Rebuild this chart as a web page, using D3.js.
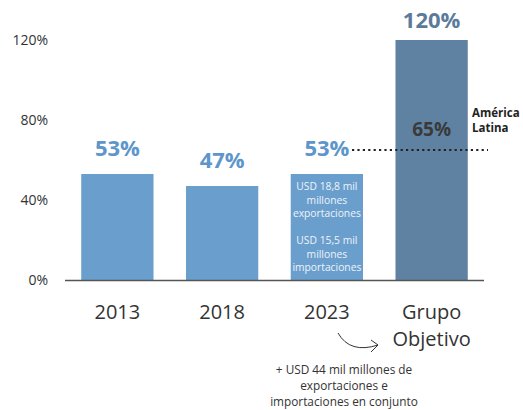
<!DOCTYPE html>
<html>
<head>
<meta charset="utf-8">
<script src="https://cdn.jsdelivr.net/npm/d3@7"></script>
<style>
  body { margin: 0; background: #fff; }
  text { font-family: "Open Sans", "Noto Sans", sans-serif; }
</style>
</head>
<body>
<svg id="chart"></svg>
<script>
// Data
const categories = ["2013", "2018", "2023", "Grupo Objetivo"];
const values = [53, 47, 53, 120];
const valueLabels = ["53%", "47%", "53%", "120%"];
const yTicks = [0, 40, 80, 120];
const latamValue = 65;
const barNotes = ["USD 18,8 mil", "millones", "exportaciones", "", "USD 15,5 mil", "millones", "importaciones"];
const footNote = ["+ USD 44 mil millones de", "exportaciones e", "importaciones en conjunto"];

const width = 523, height = 410;
const svg = d3.select("#chart").attr("width", width).attr("height", height);

const x = d3.scaleBand().domain(categories).range([65, 484]).paddingInner(0.31).paddingOuter(0.155);
const y = d3.scaleLinear().domain([0, 120]).range([280, 40]);

const lightBlue = "#6a9fcd", darkBlue = "#5f82a2";

// y axis labels
svg.append("g").selectAll("text").data(yTicks).enter().append("text")
  .attr("x", 48).attr("y", d => y(d) + 5)
  .attr("text-anchor", "end").attr("font-size", 14).attr("fill", "#333")
  .text(d => d + "%");

// bars
svg.append("g").selectAll("rect").data(values).enter().append("rect")
  .attr("x", (d, i) => x(categories[i]))
  .attr("y", d => y(d))
  .attr("width", x.bandwidth())
  .attr("height", d => y(0) - y(d))
  .attr("fill", (d, i) => i === 3 ? darkBlue : lightBlue);

// baseline
svg.append("line").attr("x1", 65).attr("x2", 484).attr("y1", y(0) + 0.5).attr("y2", y(0) + 0.5)
  .attr("stroke", "#555").attr("stroke-width", 1.3);

// value labels
svg.append("g").selectAll("text").data(values).enter().append("text")
  .attr("x", (d, i) => x(categories[i]) + x.bandwidth() / 2)
  .attr("y", (d, i) => y(d) - (i === 3 ? 12 : 18))
  .attr("text-anchor", "middle").attr("font-size", 22).attr("font-weight", "bold")
  .attr("fill", (d, i) => i === 3 ? "#5b7b9b" : "#5d96ca")
  .text((d, i) => valueLabels[i]);

// notes inside 2023 bar
const cx3 = x("2023") + x.bandwidth() / 2;
svg.append("g").selectAll("text").data(barNotes).enter().append("text")
  .attr("x", cx3).attr("y", (d, i) => 190 + i * 13.5)
  .attr("text-anchor", "middle").attr("font-size", 10.3).attr("fill", "#eef3f9")
  .text(d => d);

// category labels
svg.append("g").selectAll("text").data(categories).enter().append("text")
  .attr("x", d => x(d) + x.bandwidth() / 2)
  .attr("y", 319)
  .attr("text-anchor", "middle").attr("font-size", 20).attr("fill", "#333")
  .each(function (d) {
    const parts = d === "Grupo Objetivo" ? ["Grupo", "Objetivo"] : [d];
    d3.select(this).selectAll("tspan").data(parts).enter().append("tspan")
      .attr("x", x(d) + x.bandwidth() / 2)
      .attr("dy", (p, i) => i === 0 ? 0 : 27)
      .text(p => p);
  });

// Latin America dotted line
svg.append("line")
  .attr("x1", 352).attr("x2", 488).attr("y1", y(latamValue)).attr("y2", y(latamValue))
  .attr("stroke", "#222").attr("stroke-width", 2.2)
  .attr("stroke-dasharray", "2.2,3.2");
svg.append("text").attr("x", x("Grupo Objetivo") + x.bandwidth() / 2).attr("y", y(latamValue) - 14)
  .attr("text-anchor", "middle").attr("font-size", 19).attr("font-weight", "bold").attr("fill", "#3a3a3a")
  .text(latamValue + "%");
svg.append("text").attr("x", 472).attr("y", 117).attr("font-size", 11.5).attr("font-weight", "bold").attr("fill", "#222")
  .selectAll("tspan").data(["América", "Latina"]).enter().append("tspan")
  .attr("x", 472).attr("dy", (d, i) => i === 0 ? 0 : 15).text(d => d);

// curved arrow
svg.append("path")
  .attr("d", "M338,333 Q350,354 378,345")
  .attr("fill", "none").attr("stroke", "#333").attr("stroke-width", 1);
svg.append("path")
  .attr("d", "M371,340 L378,345 L371,352")
  .attr("fill", "none").attr("stroke", "#333").attr("stroke-width", 1);

// foot note
svg.append("g").selectAll("text").data(footNote).enter().append("text")
  .attr("x", 344).attr("y", (d, i) => 374 + i * 16)
  .attr("text-anchor", "middle").attr("font-size", 11.8).attr("fill", "#333")
  .text(d => d);
</script>
</body>
</html>
